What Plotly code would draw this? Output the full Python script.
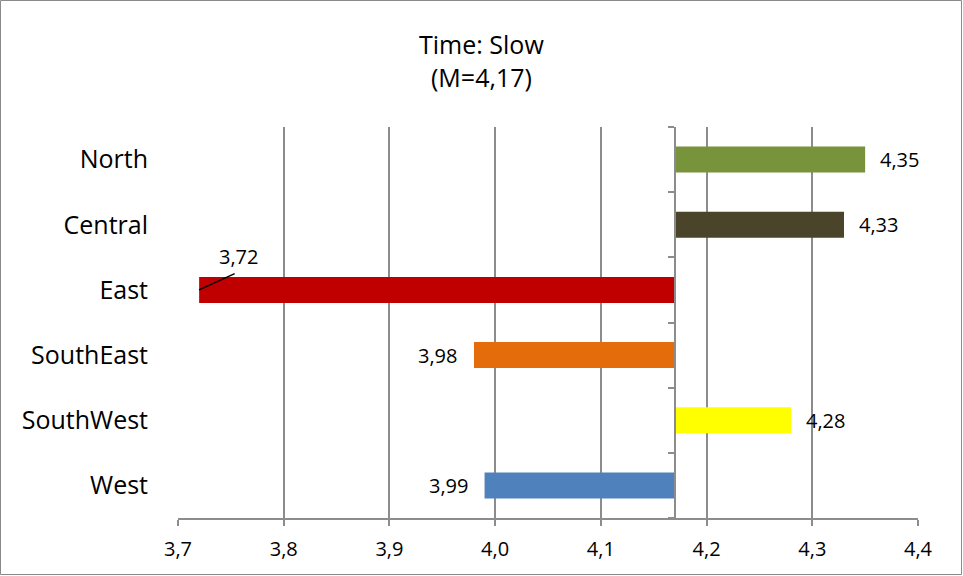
import plotly.graph_objects as go

categories = ["North", "Central", "East", "SouthEast", "SouthWest", "West"]
values = [4.35, 4.33, 3.72, 3.98, 4.28, 3.99]
colors = ["#77933C", "#4A452A", "#C00000", "#E46C0A", "#FFFF00", "#4F81BD"]
mean_value = 4.17
x_ticks = [3.7, 3.8, 3.9, 4.0, 4.1, 4.2, 4.3, 4.4]
x_tick_labels = ["3,7", "3,8", "3,9", "4,0", "4,1", "4,2", "4,3", "4,4"]
title_lines = ["Time: Slow", "(M=4,17)"]

def fmt(v):
    return f"{v:.2f}".replace(".", ",")

W, H = 963, 576
ml, mr, mt, mb = 178, 45, 127, 58
pw, ph = W - ml - mr, H - mt - mb
x_min, x_max = 3.7, 4.4
font = "Open Sans, Lato, Liberation Sans, sans-serif"
grid = "#8c8c8c"

fig = go.Figure()
fig.add_trace(go.Bar(
    y=categories,
    x=[v - mean_value for v in values],
    base=mean_value,
    orientation="h",
    marker=dict(color=colors, line=dict(width=0)),
    hoverinfo="skip",
    showlegend=False,
))
# invisible trace for the secondary axis (mean line with boundary ticks)
fig.add_trace(go.Scatter(
    y=categories, x=[mean_value] * len(categories), yaxis="y2",
    mode="markers", marker=dict(opacity=0), hoverinfo="skip", showlegend=False,
))

lab_font = dict(size=20, color="black", family=font)
annotations = []
for c, v in zip(categories, values):
    if c == "East":
        # leader line
        annotations.append(dict(
            x=v, y=c, xref="x", yref="y", text="", showarrow=True,
            arrowhead=0, arrowwidth=1.5, arrowcolor="black",
            ax=37, ay=-17, standoff=0, startstandoff=0,
        ))
        annotations.append(dict(
            x=v, y=c, xref="x", yref="y", text=fmt(v), showarrow=False,
            xanchor="center", yanchor="middle", xshift=39, yshift=33, font=lab_font,
        ))
    elif v >= mean_value:
        annotations.append(dict(
            x=v, y=c, xref="x", yref="y", text=fmt(v), showarrow=False,
            xanchor="left", xshift=13, font=lab_font,
        ))
    else:
        annotations.append(dict(
            x=v, y=c, xref="x", yref="y", text=fmt(v), showarrow=False,
            xanchor="right", xshift=-15, font=lab_font,
        ))

title_font = dict(size=25, color="black", family=font)
annotations.append(dict(
    x=(W / 2 - ml) / pw, y=(H - mb - 44) / ph, xref="paper", yref="paper",
    text=title_lines[0], showarrow=False, font=title_font,
    xanchor="center", yanchor="middle",
))
annotations.append(dict(
    x=(W / 2 - ml) / pw, y=(H - mb - 77) / ph, xref="paper", yref="paper",
    text=title_lines[1], showarrow=False, font=title_font,
    xanchor="center", yanchor="middle",
))

shapes = [dict(
    type="rect", xref="paper", yref="paper",
    x0=(0.5 - ml) / pw, x1=(W - 1.5 - ml) / pw,
    y0=(H - mb - (H - 1.5)) / ph, y1=(H - mb - 0.5) / ph,
    line=dict(color="#8a8a8a", width=1), fillcolor="rgba(0,0,0,0)", layer="below",
)]

fig.update_layout(
    width=W, height=H,
    margin=dict(l=ml, r=mr, t=mt, b=mb),
    paper_bgcolor="white", plot_bgcolor="white",
    bargap=0.6,
    font=dict(family=font, color="black"),
    annotations=annotations,
    shapes=shapes,
    xaxis=dict(
        range=[x_min, x_max], tickvals=x_ticks, ticktext=x_tick_labels,
        showgrid=True, gridcolor=grid, gridwidth=1.5,
        showline=True, linecolor=grid, linewidth=1.5,
        ticks="outside", ticklen=6, tickcolor=grid, tickwidth=1.5,
        tickfont=dict(size=20, family=font), zeroline=False, fixedrange=True,
        ticklabelstandoff=6,
    ),
    yaxis=dict(
        categoryorder="array", categoryarray=categories[::-1],
        range=[-0.5, len(categories) - 0.5],
        showgrid=False, showline=False, ticks="", zeroline=False,
        tickfont=dict(size=25, family=font), ticklabelstandoff=29,
    ),
    yaxis2=dict(
        overlaying="y", anchor="free", side="left",
        position=(mean_value - x_min) / (x_max - x_min),
        categoryorder="array", categoryarray=categories[::-1],
        range=[-0.5, len(categories) - 0.5],
        showticklabels=False, showgrid=False, zeroline=False,
        showline=True, linecolor=grid, linewidth=1.5,
        ticks="outside", tickson="boundaries", ticklen=6,
        tickcolor=grid, tickwidth=1.5,
    ),
)

fig.write_html("out.html", config={"displayModeBar": False},
               post_script="document.body.style.margin='0px';")
